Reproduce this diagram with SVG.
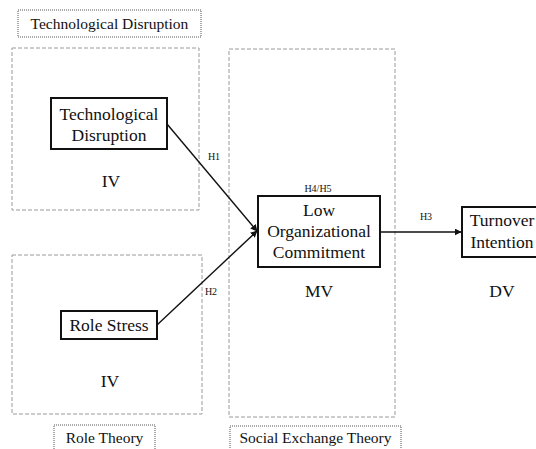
<svg xmlns="http://www.w3.org/2000/svg" width="536" height="449" viewBox="0 0 536 449" font-family="'Liberation Serif', 'Times New Roman', Times, 'DejaVu Serif', serif">
<style>
text{fill:#111;text-anchor:middle}
.n{font-size:17.5px}
.lab{font-size:15.5px}
.h{font-size:10px}
.node{fill:#fff;stroke:#111;stroke-width:2}
.grp{fill:none;stroke:#9a9a9a;stroke-width:1;stroke-dasharray:4 2}
.tag{fill:#fff;stroke:#555;stroke-width:1;stroke-dasharray:1 1}
.c{fill:none;stroke:#111;stroke-width:1.4}
</style>
<defs>
<marker id="ah" viewBox="0 0 10 10" refX="9" refY="5" markerWidth="7" markerHeight="7" markerUnits="userSpaceOnUse" orient="auto">
<path d="M0,0 L10,5 L0,10 z" fill="#111"/>
</marker>
</defs>
<rect width="536" height="449" fill="#fff"/>
<g id="frames">
<rect class="grp" x="12" y="48" width="187" height="162"/>
<rect class="grp" x="12" y="255" width="190" height="159"/>
<rect class="grp" x="229" y="49" width="166" height="368"/>
</g>
<g id="tag-tech">
<rect class="tag" x="18" y="10" width="183" height="27"/>
<text class="lab" x="109.5" y="29">Technological Disruption</text>
</g>
<g id="tag-role">
<rect class="tag" x="54" y="425" width="101" height="30"/>
<text class="lab" x="104.5" y="443">Role Theory</text>
</g>
<g id="tag-set">
<rect class="tag" x="230" y="426" width="171" height="30"/>
<text class="lab" x="315.5" y="443">Social Exchange Theory</text>
</g>
<g id="connectors">
<line class="c" x1="167" y1="124" x2="257" y2="231" marker-end="url(#ah)"/>
<line class="c" x1="157" y1="325" x2="257" y2="231" marker-end="url(#ah)"/>
<line class="c" x1="380" y1="232" x2="461" y2="232" marker-end="url(#ah)"/>
<text class="h" x="214" y="160">H1</text>
<text class="h" x="211" y="295">H2</text>
<text class="h" x="426" y="220">H3</text>
<text class="h" x="318" y="192">H4/H5</text>
</g>
<g id="node-td">
<rect class="node" x="51" y="98" width="116" height="51"/>
<text class="n" x="109" y="120">Technological</text>
<text class="n" x="109" y="141">Disruption</text>
<text class="n" x="111" y="187">IV</text>
</g>
<g id="node-rs">
<rect class="node" x="61" y="311" width="96" height="28"/>
<text class="n" x="109" y="331">Role Stress</text>
<text class="n" x="110" y="387">IV</text>
</g>
<g id="node-loc">
<rect class="node" x="258" y="196" width="122" height="71"/>
<text class="n" x="319" y="216">Low</text>
<text class="n" x="319" y="237">Organizational</text>
<text class="n" x="319" y="258">Commitment</text>
<text class="n" x="319" y="297">MV</text>
</g>
<g id="node-ti">
<rect class="node" x="462" y="207" width="80" height="50"/>
<text class="n" x="502" y="226">Turnover</text>
<text class="n" x="502" y="248">Intention</text>
<text class="n" x="502" y="297">DV</text>
</g>
</svg>
